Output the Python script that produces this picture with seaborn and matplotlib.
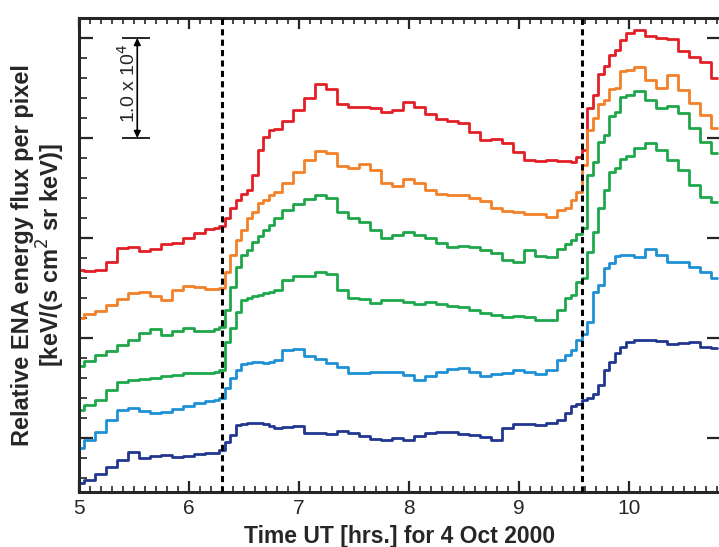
# -*- coding: utf-8 -*-

import matplotlib
matplotlib.use('Agg')
import matplotlib.pyplot as plt
from matplotlib.ticker import MultipleLocator
import pandas as pd
import seaborn as sns


# sample times, UT hours on 4 Oct 2000 (denser around the two rises)
hours = [5.0, 5.1, 5.2, 5.3, 5.4, 5.5, 5.6, 5.7, 5.8, 5.9, 6.0, 6.1, 6.2,
         6.25, 6.3, 6.35, 6.4, 6.45, 6.5, 6.55, 6.6, 6.65, 6.7, 6.75, 6.8,
         6.9, 7.0, 7.1, 7.2, 7.3, 7.4, 7.5, 7.6, 7.7, 7.8, 7.9, 8.0, 8.1,
         8.2, 8.3, 8.4, 8.5, 8.6, 8.7, 8.8, 8.9, 9.0, 9.1, 9.2, 9.3, 9.4,
         9.45, 9.5, 9.55, 9.6, 9.65, 9.7, 9.75, 9.8, 9.85, 9.9, 9.95, 10.0,
         10.1, 10.2, 10.3, 10.4, 10.5, 10.6, 10.7, 10.8]

# relative ENA energy flux per pixel (units of 1e4, curves offset)
red = [2.68, 2.67, 2.68, 2.76, 2.90, 2.91, 2.87, 2.89, 2.94, 2.95, 3.00, 3.05, 3.09,
       3.10, 3.12, 3.20, 3.30, 3.38, 3.44, 3.48, 3.63, 3.88, 4.01, 4.08, 4.09,
       4.17, 4.28, 4.40, 4.54, 4.49, 4.34, 4.31, 4.31, 4.30, 4.26, 4.28, 4.36, 4.31,
       4.24, 4.19, 4.17, 4.15, 4.06, 3.98, 3.99, 3.95, 3.86, 3.78, 3.77, 3.78, 3.77,
       3.77, 3.76, 3.81, 3.88, 4.30, 4.43, 4.64, 4.72, 4.83, 4.88, 4.98, 5.05,
       5.08, 5.02, 5.00, 4.99, 4.87, 4.81, 4.76, 4.60]
orange = [2.20, 2.24, 2.27, 2.33, 2.39, 2.45, 2.46, 2.42, 2.38, 2.48, 2.52, 2.51, 2.49,
          2.49, 2.50, 2.66, 2.83, 2.98, 3.08, 3.20, 3.26, 3.35, 3.38, 3.43, 3.46,
          3.55, 3.66, 3.78, 3.87, 3.85, 3.72, 3.70, 3.74, 3.68, 3.55, 3.52, 3.59, 3.55,
          3.48, 3.44, 3.43, 3.43, 3.40, 3.37, 3.30, 3.27, 3.26, 3.24, 3.24, 3.21, 3.28,
          3.30, 3.38, 3.46, 3.73, 4.08, 4.20, 4.34, 4.38, 4.49, 4.50, 4.67, 4.68,
          4.71, 4.58, 4.50, 4.63, 4.48, 4.35, 4.23, 4.10]
green_hi = [1.72, 1.77, 1.83, 1.87, 1.93, 1.98, 2.05, 2.09, 2.03, 2.07, 2.10, 2.07, 2.07,
            2.09, 2.11, 2.28, 2.51, 2.71, 2.83, 2.88, 2.96, 3.02, 3.08, 3.13, 3.20,
            3.28, 3.34, 3.39, 3.43, 3.40, 3.26, 3.20, 3.16, 3.08, 3.00, 3.03, 3.06, 3.03,
            3.00, 2.95, 2.91, 2.92, 2.91, 2.88, 2.85, 2.78, 2.76, 2.88, 2.82, 2.81, 2.89,
            2.94, 2.98, 3.04, 3.10, 3.63, 3.76, 3.96, 4.03, 4.22, 4.26, 4.41, 4.43,
            4.47, 4.38, 4.30, 4.32, 4.25, 4.10, 3.96, 3.85]
green_lo = [1.28, 1.33, 1.38, 1.48, 1.56, 1.58, 1.59, 1.60, 1.62, 1.63, 1.65, 1.65, 1.65,
            1.66, 1.68, 1.96, 2.10, 2.26, 2.38, 2.40, 2.42, 2.43, 2.45, 2.46, 2.48,
            2.58, 2.62, 2.62, 2.66, 2.64, 2.48, 2.40, 2.39, 2.35, 2.38, 2.38, 2.36, 2.34,
            2.36, 2.34, 2.32, 2.31, 2.28, 2.25, 2.23, 2.21, 2.22, 2.21, 2.18, 2.18, 2.28,
            2.40, 2.43, 2.56, 2.60, 2.86, 3.06, 3.30, 3.48, 3.66, 3.70, 3.79, 3.82,
            3.90, 3.95, 3.88, 3.78, 3.68, 3.53, 3.41, 3.36]
light_blue = [0.90, 0.98, 1.06, 1.18, 1.28, 1.30, 1.27, 1.25, 1.26, 1.29, 1.32, 1.35, 1.37,
              1.38, 1.40, 1.50, 1.60, 1.68, 1.74, 1.75, 1.76, 1.76, 1.75, 1.76, 1.78,
              1.88, 1.89, 1.82, 1.79, 1.75, 1.71, 1.65, 1.65, 1.66, 1.66, 1.66, 1.63, 1.58,
              1.62, 1.66, 1.69, 1.70, 1.66, 1.62, 1.64, 1.65, 1.68, 1.66, 1.64, 1.68, 1.78,
              1.83, 1.88, 1.98, 2.04, 2.16, 2.46, 2.53, 2.70, 2.75, 2.82, 2.83, 2.83,
              2.81, 2.89, 2.83, 2.76, 2.76, 2.71, 2.66, 2.60]
dark_blue = [0.55, 0.58, 0.64, 0.71, 0.78, 0.86, 0.80, 0.82, 0.83, 0.81, 0.82, 0.84, 0.85,
             0.85, 0.88, 0.96, 1.03, 1.13, 1.14, 1.15, 1.15, 1.15, 1.14, 1.12, 1.10,
             1.11, 1.12, 1.05, 1.05, 1.04, 1.07, 1.05, 1.02, 0.99, 0.98, 1.00, 0.98, 1.02,
             1.05, 1.06, 1.06, 1.04, 1.03, 1.01, 0.98, 1.10, 1.14, 1.14, 1.13, 1.15, 1.18,
             1.25, 1.32, 1.34, 1.38, 1.40, 1.44, 1.53, 1.68, 1.76, 1.85, 1.91, 1.96,
             1.98, 1.98, 1.97, 1.94, 1.95, 1.96, 1.91, 1.90]

boundaries = [6.3, 9.58]
scale_bar = [4.0e4, 5.0e4]

series = {
    'red': red,
    'orange': orange,
    'green_hi': green_hi,
    'green_lo': green_lo,
    'light_blue': light_blue,
    'dark_blue': dark_blue,
}
colors = {
    'red': '#e21f26',
    'orange': '#f2812a',
    'green_hi': '#1fa64a',
    'green_lo': '#1ea84c',
    'light_blue': '#1e90d6',
    'dark_blue': '#21378f',
}

rows = []
for name, vals in series.items():
    for t, v in zip(hours, vals):
        rows.append({'time': t, 'flux': v * 1e4, 'curve': name})
df = pd.DataFrame(rows)

sns.set_style('ticks')
plt.rcParams['font.family'] = ['Liberation Sans', 'DejaVu Sans']

fig = plt.figure(figsize=(7.19, 5.47), dpi=100)
ax = fig.add_axes([79 / 719, 55 / 547, 642 / 719, 474 / 547])

sns.lineplot(
    data=df,
    x='time',
    y='flux',
    hue='curve',
    palette=colors,
    hue_order=list(series.keys()),
    drawstyle='steps-mid',
    linewidth=2.0,
    errorbar=None,
    legend=False,
    ax=ax,
)

for b in boundaries:
    ax.axvline(b, color='black', linewidth=2.2, linestyle=(0, (2, 1.4)), zorder=5)

# scale bar 1.0 x 10^4
ax.annotate('', xy=(5.53, scale_bar[1]), xytext=(5.53, scale_bar[0]),
            arrowprops=dict(arrowstyle='<|-|>', color='black', lw=1.2,
                            shrinkA=0, shrinkB=0, mutation_scale=10))
ax.hlines(scale_bar, 5.39, 5.65, color='black', linewidth=1.2)
ax.text(5.44, 4.55e4, '1.0 x 10$^4$', rotation=90, ha='center', va='center',
        fontsize=14)

ax.set_xlim(5, 10.84)
ax.set_ylim(4600, 52000)
ax.xaxis.set_major_locator(MultipleLocator(1))
ax.xaxis.set_minor_locator(MultipleLocator(0.1))
ax.yaxis.set_major_locator(MultipleLocator(10000))
ax.yaxis.set_minor_locator(MultipleLocator(2000))
ax.tick_params(axis='x', which='major', direction='in', length=8, width=1.6,
               top=True, bottom=True, labelsize=15, pad=5)
ax.tick_params(axis='x', which='minor', direction='in', length=4, width=1.2,
               top=True, bottom=True)
ax.tick_params(axis='y', which='major', direction='in', length=10, width=1.6,
               left=True, right=True, labelleft=False)
ax.tick_params(axis='y', which='minor', direction='in', length=6, width=1.2,
               left=True, right=False)
for s in ax.spines.values():
    s.set_linewidth(2.2)
    s.set_visible(True)

ax.set_xlabel('Time UT [hrs.] for 4 Oct 2000', fontsize=16.5, fontweight='bold',
              labelpad=5)
ax.set_ylabel('Relative ENA energy flux per pixel\n[keV/(s cm$^2$ sr keV)]',
              fontsize=17, fontweight='bold', labelpad=5, linespacing=1.05)

plt.savefig('out.png', dpi=100)
